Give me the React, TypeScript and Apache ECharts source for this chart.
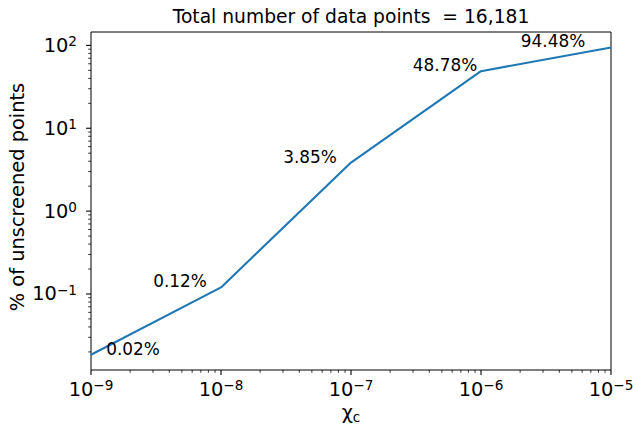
import React, { useEffect, useRef } from 'react';
import * as echarts from 'echarts';

const xValues = [1e-9, 1e-8, 1e-7, 1e-6, 1e-5];
const yValues = [0.0185, 0.12, 3.85, 48.78, 94.48];
const pointLabels = ['0.02%', '0.12%', '3.85%', '48.78%', '94.48%'];
const labelOffsets = [[42, -6], [-41, -6], [-41, -6], [-36, -6], [-58, -6]];

const xMin = 1e-9;
const xMax = 1e-5;
const yMin = 0.0121;
const yMax = 145;

const xDecades = [1e-9, 1e-8, 1e-7, 1e-6];
const yDecades = [0.01, 0.1, 1, 10];
const minorMultipliers = [2, 3, 4, 5, 6, 7, 8, 9];
const xMajorTicks = [1e-9, 1e-8, 1e-7, 1e-6, 1e-5];
const yMajorTicks = [0.1, 1, 10, 100];

const titleText = 'Total number of data points  = 16,181';
const yName = '% of unscreened points';

const FONT = 'DejaVu Sans';

function buildTicks(decades: number[], majors: number[], lo: number, hi: number) {
  const out: { v: number; major: number }[] = [];
  majors.forEach((m) => {
    if (m >= lo && m <= hi) out.push({ v: m, major: 1 });
  });
  decades.forEach((d) => {
    minorMultipliers.forEach((k) => {
      const v = d * k;
      if (v >= lo && v <= hi) out.push({ v, major: 0 });
    });
  });
  return out;
}

function powLabel(v: number) {
  const l = Math.log10(v);
  const e = Math.round(l);
  if (Math.abs(l - e) > 1e-6) return '';
  const es = e < 0 ? '\u2212' + String(-e) : String(e);
  return '{b|10}{s|' + es + '}';
}

const tickRich = {
  b: { fontSize: 19.4, fontFamily: FONT, color: '#000', lineHeight: 22 },
  s: { fontSize: 13.6, fontFamily: FONT, color: '#000', lineHeight: 14, verticalAlign: 'top' },
};

export default function App() {
  const ref = useRef<HTMLDivElement>(null);

  useEffect(() => {
    if (!ref.current) return;
    const chart = echarts.init(ref.current, undefined, { renderer: 'svg' });

    const xTicks = buildTicks(xDecades, xMajorTicks, xMin, xMax);
    const yTicks = buildTicks(yDecades, yMajorTicks, yMin, yMax);

    const option: any = {
      animation: false,
      backgroundColor: '#fff',
      grid: {
        left: 91,
        right: 22,
        top: 32,
        bottom: 62,
        containLabel: false,
        outerBoundsMode: 'none',
        show: true,
        borderColor: '#000',
        borderWidth: 1,
        backgroundColor: 'transparent',
      },
      xAxis: {
        type: 'log',
        logBase: 10,
        min: xMin,
        max: xMax,
        axisLine: { show: false },
        axisTick: { show: false },
        splitLine: { show: false },
        minorTick: { show: false },
        axisLabel: {
          margin: 8,
          formatter: (v: number) => powLabel(v),
          rich: tickRich,
          showMinLabel: true,
          showMaxLabel: true,
          hideOverlap: false,
        },
      },
      yAxis: {
        type: 'log',
        logBase: 10,
        min: yMin,
        max: yMax,
        axisLine: { show: false },
        axisTick: { show: false },
        splitLine: { show: false },
        axisLabel: {
          margin: 14,
          formatter: (v: number) => powLabel(v),
          rich: tickRich,
          showMinLabel: true,
          showMaxLabel: true,
        },
      },
      graphic: [
        {
          type: 'text',
          x: 351,
          y: 16.5,
          style: {
            text: titleText,
            font: '18.7px "DejaVu Sans"',
            fill: '#000',
            align: 'center',
            verticalAlign: 'middle',
          },
        },
        {
          type: 'text',
          x: 17.5,
          y: 197,
          rotation: Math.PI / 2,
          style: {
            text: yName,
            font: '19.4px "DejaVu Sans"',
            fill: '#000',
            align: 'center',
            verticalAlign: 'middle',
          },
        },
        {
          type: 'text',
          x: 351,
          y: 412,
          style: {
            text: '{a|\u03c7}{c|c}',
            align: 'center',
            verticalAlign: 'middle',
            rich: {
              a: { fontSize: 19.4, fontFamily: FONT, color: '#000', lineHeight: 24 },
              c: { fontSize: 13.6, fontFamily: FONT, color: '#000', lineHeight: 13.6, verticalAlign: 'bottom' },
            },
          },
        },
      ],
      series: [
        {
          type: 'line',
          data: xValues.map((x, i) => [x, yValues[i]]),
          showSymbol: false,
          symbol: 'none',
          lineStyle: { color: '#1f77b4', width: 2.1 },
          itemStyle: { color: '#1f77b4' },
          z: 3,
        },
        {
          type: 'scatter',
          data: xValues.map((x, i) => ({
            value: [x, yValues[i]],
            label: { offset: labelOffsets[i] },
          })),
          symbolSize: 1,
          itemStyle: { color: 'rgba(0,0,0,0)', opacity: 1 },
          silent: true,
          label: {
            show: true,
            position: 'inside',
            formatter: (p: any) => pointLabels[p.dataIndex],
            fontSize: 16.9,
            fontFamily: FONT,
            color: '#000',
            opacity: 1,
          },
          z: 4,
        },
        {
          type: 'custom',
          silent: true,
          clip: false,
          data: xTicks.map((t) => [t.v, yMin, t.major]),
          renderItem: (params: any, api: any) => {
            const p = api.coord([api.value(0), yMin]);
            const major = api.value(2) === 1;
            const len = major ? 4.9 : 2.8;
            return {
              type: 'line',
              shape: { x1: p[0], y1: p[1], x2: p[0], y2: p[1] + len },
              style: { stroke: '#000', lineWidth: major ? 1.1 : 0.8 },
            };
          },
          z: 5,
        },
        {
          type: 'custom',
          silent: true,
          clip: false,
          data: yTicks.map((t) => [xMin, t.v, t.major]),
          renderItem: (params: any, api: any) => {
            const p = api.coord([xMin, api.value(1)]);
            const major = api.value(2) === 1;
            const len = major ? 4.9 : 2.8;
            return {
              type: 'line',
              shape: { x1: p[0] - len, y1: p[1], x2: p[0], y2: p[1] },
              style: { stroke: '#000', lineWidth: major ? 1.1 : 0.8 },
            };
          },
          z: 5,
        },
      ],
    };

    chart.setOption(option);
    return () => {
      chart.dispose();
    };
  }, []);

  return (
    <div
      ref={ref}
      style={{ position: 'fixed', left: 0, top: 0, width: 633, height: 432, background: '#fff' }}
    />
  );
}
